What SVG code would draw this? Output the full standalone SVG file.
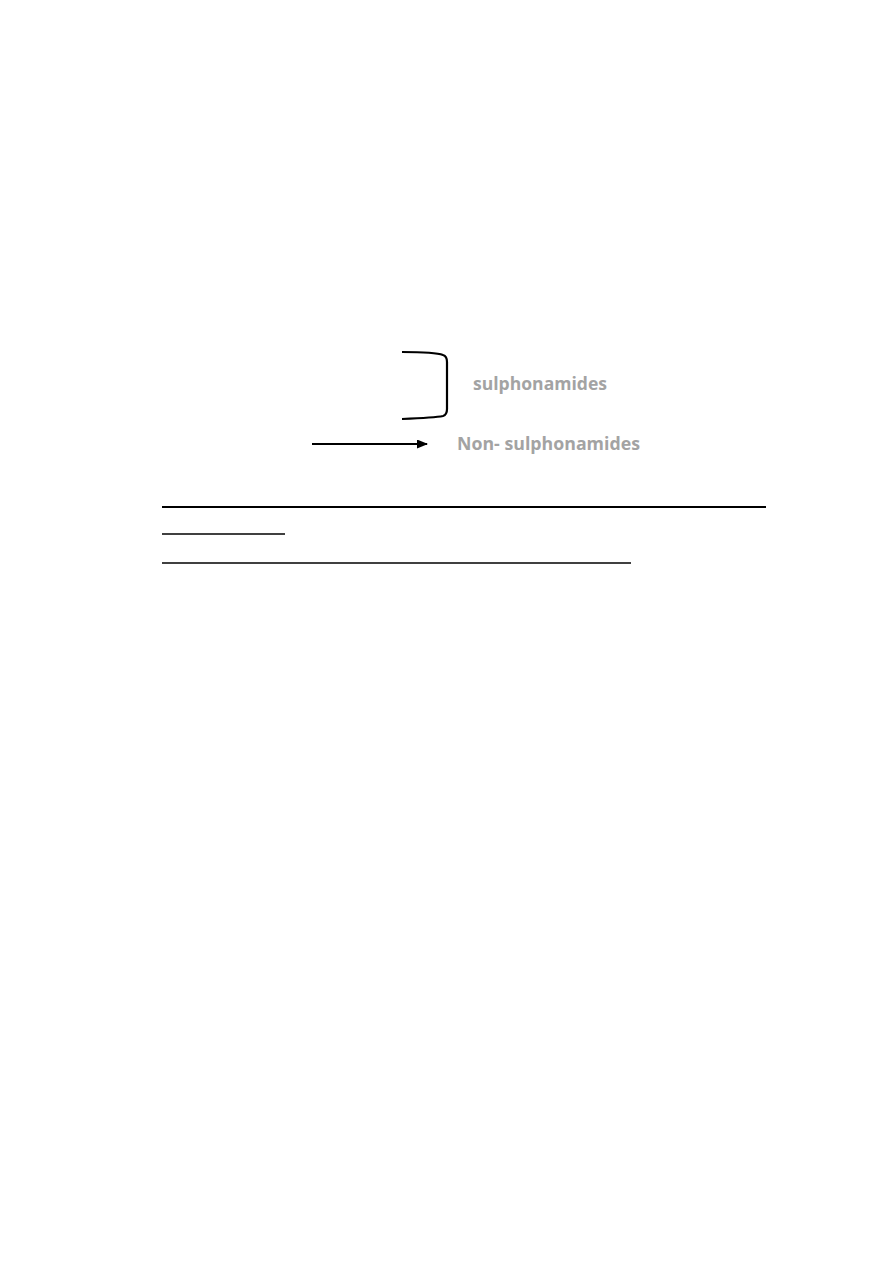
<svg xmlns="http://www.w3.org/2000/svg" width="893" height="1263" viewBox="0 0 893 1263">
<style>
.lbl{font-family:"Open Sans","Liberation Sans",sans-serif;font-weight:bold;font-size:17px;fill:#a3a3a3}
.ln{stroke:#000;fill:none}
</style>
<defs>
<marker id="ah" markerWidth="11" markerHeight="9" refX="10" refY="4.5" orient="auto" markerUnits="userSpaceOnUse">
<path d="M0,0 L11,4.5 L0,9 Z" fill="#000"/>
</marker>
</defs>
<rect width="893" height="1263" fill="#fff"/>
<g id="connectors">
<path class="ln" stroke-width="2.2" d="M402,352 C425,352 438,353 443,355 C446,356 447,358 447,362 L447,409 C447,413 446,415 443,416 C438,417 425,418 402,419"/>
<line class="ln" stroke-width="2" x1="312" y1="444" x2="427" y2="444" marker-end="url(#ah)"/>
</g>
<g id="sulphonamides"><text class="lbl" x="473" y="390" textLength="134" lengthAdjust="spacingAndGlyphs">sulphonamides</text></g>
<g id="non-sulphonamides"><text class="lbl" x="457" y="450" textLength="183" lengthAdjust="spacingAndGlyphs">Non- sulphonamides</text></g>
<g id="rules">
<line class="ln" stroke-width="2" x1="162" y1="507" x2="766" y2="507"/>
<line class="ln" stroke-width="1.3" x1="162" y1="534" x2="285" y2="534"/>
<line class="ln" stroke-width="1.3" x1="162" y1="563" x2="631" y2="563"/>
</g>
</svg>
